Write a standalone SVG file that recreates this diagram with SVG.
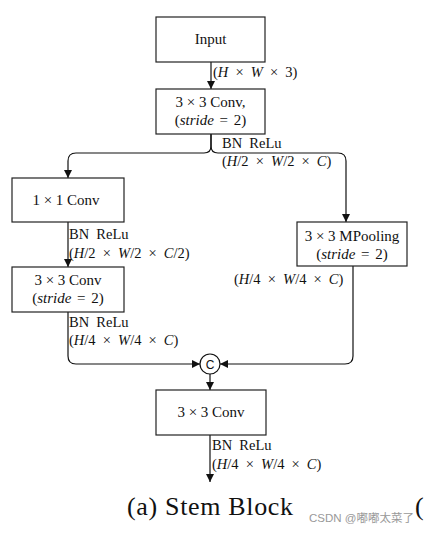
<svg xmlns="http://www.w3.org/2000/svg" width="427" height="533" viewBox="0 0 427 533">
<style>
.box{fill:#fff;stroke:#222;stroke-width:1.2}
.t{font-family:"Liberation Serif",serif;font-size:15px;fill:#111;text-anchor:middle}
.l{font-family:"Liberation Serif",serif;font-size:14.5px;fill:#111;word-spacing:3.5px}
.i{font-style:italic}
.s{word-spacing:2px}
.c{fill:none;stroke:#111;stroke-width:1.2}
</style>
<defs>
<marker id="ah" viewBox="0 0 10 10" refX="10" refY="5" markerWidth="8" markerHeight="8" markerUnits="userSpaceOnUse" orient="auto">
<path d="M0,0 L10,5 L0,10 z" fill="#111"/>
</marker>
</defs>
<rect width="427" height="533" fill="#fff"/>
<g id="connectors">
<path class="c" d="M211,62 V89" marker-end="url(#ah)"/>
<path class="c" d="M211,134 V146 Q211,153 204,153 H76 Q68,153 68,161 V178" marker-end="url(#ah)"/>
<path class="c" d="M211,134 V146 Q211,153 218,153 H338 Q346,153 346,161 V222" marker-end="url(#ah)"/>
<path class="c" d="M68,222 V267" marker-end="url(#ah)"/>
<path class="c" d="M68,312 V356 Q68,364 76,364 H200" marker-end="url(#ah)"/>
<path class="c" d="M353,266 V356 Q353,364 345,364 H220" marker-end="url(#ah)"/>
<path class="c" d="M210,374 V390" marker-end="url(#ah)"/>
<path class="c" d="M210,435 V482" marker-end="url(#ah)"/>
</g>
<g id="labels">
<text class="l" x="213" y="77">(<tspan class="i">H</tspan> × <tspan class="i">W</tspan> × 3)</text>
<text class="l" x="222" y="148">BN ReLu</text>
<text class="l" x="222" y="166">(<tspan class="i">H</tspan>/2 × <tspan class="i">W</tspan>/2 × <tspan class="i">C</tspan>)</text>
<text class="l" x="69" y="239">BN ReLu</text>
<text class="l" x="69" y="258">(<tspan class="i">H</tspan>/2 × <tspan class="i">W</tspan>/2 × <tspan class="i">C</tspan>/2)</text>
<text class="l" x="234" y="284">(<tspan class="i">H</tspan>/4 × <tspan class="i">W</tspan>/4 × <tspan class="i">C</tspan>)</text>
<text class="l" x="69" y="327">BN ReLu</text>
<text class="l" x="69" y="345">(<tspan class="i">H</tspan>/4 × <tspan class="i">W</tspan>/4 × <tspan class="i">C</tspan>)</text>
<text class="l" x="212" y="450">BN ReLu</text>
<text class="l" x="212" y="469">(<tspan class="i">H</tspan>/4 × <tspan class="i">W</tspan>/4 × <tspan class="i">C</tspan>)</text>
</g>
<g id="input">
<rect class="box" x="156" y="17" width="109" height="45"/>
<text class="t" x="210.5" y="44">Input</text>
</g>
<g id="conv1">
<rect class="box" x="156" y="89" width="109" height="45"/>
<text class="t" x="210.5" y="107">3 × 3 Conv,</text>
<text class="t s" x="210.5" y="125">(<tspan class="i">stride</tspan> = 2)</text>
</g>
<g id="conv1x1">
<rect class="box" x="12" y="178" width="112" height="44"/>
<text class="t" x="66" y="205">1 × 1 Conv</text>
</g>
<g id="conv3x3b">
<rect class="box" x="12" y="267" width="112" height="45"/>
<text class="t" x="68" y="285">3 × 3 Conv</text>
<text class="t s" x="68" y="303">(<tspan class="i">stride</tspan> = 2)</text>
</g>
<g id="mpool">
<rect class="box" x="297" y="222" width="110" height="44"/>
<text class="t" x="352" y="241">3 × 3 MPooling</text>
<text class="t s" x="352" y="259">(<tspan class="i">stride</tspan> = 2)</text>
</g>
<g id="concat">
<circle cx="210" cy="364" r="10" fill="#fff" stroke="#111" stroke-width="1.2"/>
<text x="210" y="368.5" font-family="Liberation Sans,sans-serif" font-size="12" text-anchor="middle" fill="#111">C</text>
</g>
<g id="conv3">
<rect class="box" x="156" y="390" width="110" height="45"/>
<text class="t" x="211" y="417">3 × 3 Conv</text>
</g>
<text x="127" y="515" font-family="Liberation Serif,serif" font-size="26" textLength="166" fill="#111">(a) Stem Block</text>
<text x="309" y="522" font-family="Liberation Sans,'Noto Sans CJK SC',sans-serif" font-size="11.5" fill="#999">CSDN @嘟嘟太菜了</text>
<text x="415" y="515" font-family="Liberation Serif,serif" font-size="26" fill="#111">(</text>
</svg>
